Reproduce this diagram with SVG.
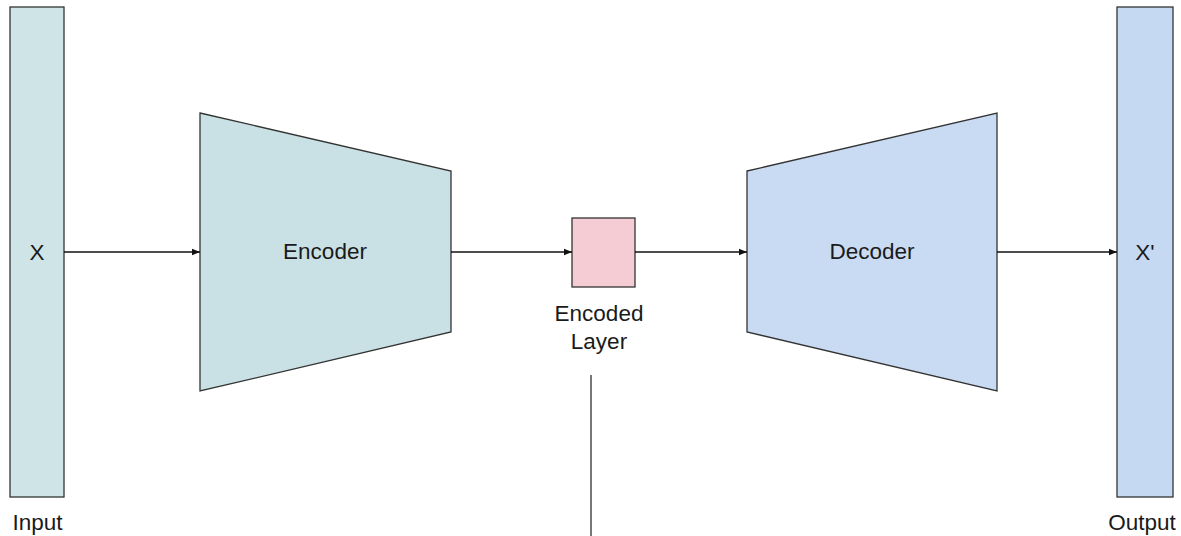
<svg xmlns="http://www.w3.org/2000/svg" width="1181" height="536" viewBox="0 0 1181 536">
  <style>
    .lbl { font-family: "Liberation Sans", Arial, sans-serif; font-size: 22.5px; fill: #1a1a1a; text-anchor: middle; }
    .shape { stroke: #333; stroke-width: 1.3; }
    .edge { stroke: #111; stroke-width: 1.3; fill: none; }
  </style>
  <defs>
    <marker id="arrow" viewBox="0 0 10 10" refX="10" refY="5" markerWidth="8" markerHeight="8" markerUnits="userSpaceOnUse" orient="auto">
      <path d="M0,1 L10,5 L0,9 Z" fill="#111"/>
    </marker>
  </defs>
  <rect width="1181" height="536" fill="#ffffff"/>

  <g id="input">
    <rect class="shape" x="10" y="7" width="54" height="490" fill="#cfe4e6"/>
    <text class="lbl" x="37" y="260">X</text>
    <text class="lbl" x="37.5" y="530">Input</text>
  </g>

  <g id="encoder">
    <polygon class="shape" points="200,113 451,171 451,332 200,391" fill="#c9e1e4"/>
    <text class="lbl" x="325" y="259">Encoder</text>
  </g>

  <g id="encoded-layer">
    <rect class="shape" x="572" y="218" width="63" height="69" fill="#f5cbd4"/>
    <text class="lbl" x="599" y="321">Encoded</text>
    <text class="lbl" x="599" y="349">Layer</text>
  </g>

  <g id="decoder">
    <polygon class="shape" points="747,171 997,113 997,391 747,332" fill="#c9dbf3"/>
    <text class="lbl" x="872" y="259">Decoder</text>
  </g>

  <g id="output">
    <rect class="shape" x="1117" y="7" width="56" height="490" fill="#c6d9f3"/>
    <text class="lbl" x="1145" y="260">X'</text>
    <text class="lbl" x="1142" y="530">Output</text>
  </g>

  <g id="connectors">
    <line class="edge" x1="64" y1="252" x2="200" y2="252" marker-end="url(#arrow)"/>
    <line class="edge" x1="451" y1="252" x2="572" y2="252" marker-end="url(#arrow)"/>
    <line class="edge" x1="635" y1="252" x2="747" y2="252" marker-end="url(#arrow)"/>
    <line class="edge" x1="997" y1="252" x2="1117" y2="252" marker-end="url(#arrow)"/>
    <line x1="591" y1="375" x2="591" y2="536" stroke="#777" stroke-width="2"/>
  </g>
</svg>
